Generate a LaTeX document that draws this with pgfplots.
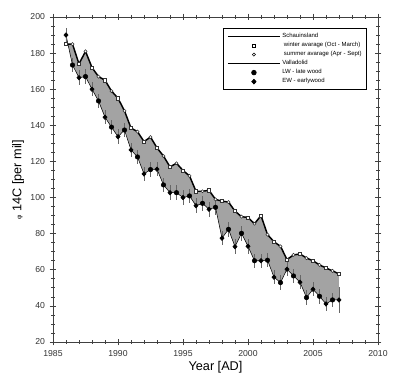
\documentclass[border=0pt]{standalone}
\usepackage{fontspec}
\setmainfont{Liberation Sans}
\usepackage{pgfplots}
\usepackage{pgfplotstable}
\pgfplotsset{compat=1.18}
\usepgfplotslibrary{fillbetween}

\pgfplotsset{
  legline/.style={legend image code/.code={\draw[##1] (0pt,0pt) -- (39pt,0pt);}},
  legmark/.style={legend image code/.code={\draw[##1] plot coordinates {(19.5pt,0pt)};}},
}

% Schauinsland: winter average at x.0, summer average at x.5
\pgfplotstableread{
x y
1986.0 185
1986.5 185
1987.0 174
1987.5 181
1988.0 172
1988.5 167
1989.0 165
1989.5 159
1990.0 155
1990.5 148
1991.0 138.5
1991.5 136.5
1992.0 131
1992.5 133.5
1993.0 127.5
1993.5 123
1994.0 117
1994.5 119
1995.0 115
1995.5 112
1996.0 103.5
1996.5 103.5
1997.0 104
1997.5 99
1998.0 98
1998.5 97.5
1999.0 92.5
1999.5 89.4
2000.0 89
2000.5 85.5
2001.0 90
2001.5 79.5
2002.0 75.5
2002.5 73
2003.0 65.7
2003.5 68.2
2004.0 68.8
2004.5 66.5
2005.0 65
2005.5 62.7
2006.0 61
2006.5 59.4
2007.0 57.7
}\schau

% Valladolid: EW at x.0, LW at x.5
\pgfplotstableread{
x y e
1986.0 190 4
1986.5 173.4 4
1987.0 166.4 4
1987.5 167 4
1988.0 160 4
1988.5 153.5 4
1989.0 144.5 4
1989.5 139 4
1990.0 133.7 4
1990.5 137.4 4
1991.0 126.4 4
1991.5 122.5 4
1992.0 113.1 4
1992.5 115.5 4
1993.0 115.7 4
1993.5 107 4
1994.0 102.7 4
1994.5 102.7 4
1995.0 100 4
1995.5 100.9 4
1996.0 95.5 4
1996.5 96.8 4
1997.0 93.5 4
1997.5 94.6 4
1998.0 77.5 4
1998.5 82.4 4
1999.0 72.8 4
1999.5 80.2 4
2000.0 73 4
2000.5 65 4
2001.0 65 4
2001.5 65.3 4
2002.0 55.9 4
2002.5 52.9 4
2003.0 60.3 4
2003.5 56.6 4
2004.0 53.1 4
2004.5 44.6 4
2005.0 49.2 4
2005.5 45.3 4
2006.0 41.1 4
2006.5 43.3 4
2007.0 43.3 7
}\vall

\begin{document}
\begin{tikzpicture}
\begin{axis}[
  set layers,
  width=243.75pt, height=243.75pt, scale only axis,
  xmin=1985, xmax=2010, ymin=20, ymax=200,
  xtick={1985,1990,...,2010}, minor x tick num=4,
  ytick={20,40,...,200}, minor y tick num=3,
  tick align=center,
  major tick length=5pt, minor tick length=3pt,
  every tick/.style={black!75, line width=0.5pt},
  axis line style={black!75, line width=0.6pt},
  /pgf/number format/.cd, 1000 sep={}, assume math mode=true,
  /pgfplots/.cd,
  tick label style={font=\fontsize{6.5}{7.5}\selectfont, text=black!80},
  xlabel={Year [AD]},
  ylabel={{\fontsize{5}{6}\selectfont φ} 14C [per mil]},
  label style={font=\fontsize{9.5}{11}\selectfont},
  xlabel style={yshift=3pt},
  ylabel style={yshift=-2pt},
  legend style={at={(0.966,0.966)}, anchor=north east, draw=black, line width=0.6pt,
    font=\fontsize{4.5}{5.5}\selectfont, row sep=-0.4pt, inner sep=2.5pt,
    nodes={inner sep=1.2pt}},
  legend cell align=left,
]
% fill between the two records
\addplot[name path=S, draw=none, forget plot] table[x=x,y=y] {\schau};
\addplot[name path=V, draw=none, forget plot] table[x=x,y=y] {\vall};
\addplot[fill=black!36, draw=none, forget plot] fill between[of=S and V];

% Valladolid line with error bars
\addplot[black, line width=0.4pt, mark=none, forget plot,
  error bars/.cd, y dir=both, y explicit,
  error bar style={black!60, line width=0.5pt}, error mark=none]
  table[x=x, y=y, y error=e] {\vall};
\addplot[only marks, mark=diamond*, mark size=1.7pt, mark options={fill=black, draw=black, xscale=1.25},
  mark repeat=2, mark phase=1, forget plot] table[x=x,y=y] {\vall};
\addplot[only marks, mark=*, mark size=1.7pt, mark options={fill=black, draw=black},
  mark repeat=2, mark phase=2, forget plot] table[x=x,y=y] {\vall};

% Schauinsland line with markers
\addplot[black, line width=1.1pt, mark=none, forget plot] table[x=x,y=y] {\schau};
\addplot[only marks, mark=square*, mark size=1.2pt, mark options={fill=white, draw=black!80, line width=0.4pt},
  mark repeat=2, mark phase=1, forget plot] table[x=x,y=y] {\schau};
\addplot[only marks, mark=*, mark size=1.2pt, mark options={fill=white, draw=black!80, line width=0.4pt},
  mark repeat=2, mark phase=2, forget plot] table[x=x,y=y] {\schau};

% legend
\addlegendimage{black, line width=1.1pt, legline}
\addlegendentry{Schauinsland}
\addlegendimage{only marks, mark=square*, mark size=1.2pt, mark options={fill=white, draw=black, line width=0.4pt}, legmark}
\addlegendentry{\ winter avarage (Oct - March)}
\addlegendimage{only marks, mark=*, mark size=1.2pt, mark options={fill=white, draw=black, line width=0.4pt}, legmark}
\addlegendentry{\ summer avarage (Apr - Sept)}
\addlegendimage{black, line width=0.4pt, legline}
\addlegendentry{Valladolid}
\addlegendimage{only marks, mark=*, mark size=1.7pt, mark options={fill=black, draw=black}, legmark}
\addlegendentry{LW - late wood}
\addlegendimage{only marks, mark=diamond*, mark size=1.7pt, mark options={fill=black, draw=black, xscale=1.25}, legmark}
\addlegendentry{EW - earlywood}
\end{axis}
\path (current axis.south west) ++(-39.75pt,-26.25pt);
\path (current axis.north east) ++(16.5pt,12.75pt);
\end{tikzpicture}
\end{document}
